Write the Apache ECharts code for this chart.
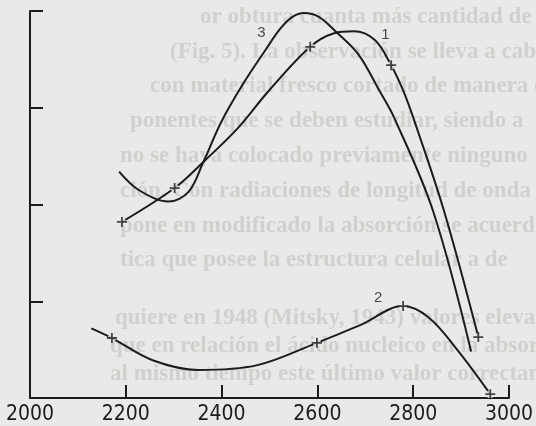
<!DOCTYPE html>
<html><head><meta charset="utf-8">
<script src="https://cdn.jsdelivr.net/npm/echarts@6/dist/echarts.min.js"></script>
<style>html,body{margin:0;padding:0;background:#e9e9e7;}#c{width:536px;height:426px;}</style>
</head><body><div id="c"></div>
<script>
// ---- data ----
const xTickLabels = ['2000', '2200', '2400', '2600', '2800', '3000'];

const curve1X = [2192, 2302, 2362, 2434, 2496, 2585, 2635, 2676, 2720, 2754, 2779, 2800, 2864, 2936];
const curve1Y = [1.82, 2.17, 2.44, 2.79, 3.16, 3.63, 3.77, 3.79, 3.70, 3.44, 3.18, 2.90, 1.94, 0.63];
const marks1X = [2192, 2302, 2585, 2754, 2936];
const marks1Y = [1.82, 2.17, 3.63, 3.44, 0.63];

const curve2X = [2128, 2171, 2256, 2351, 2475, 2599, 2688, 2779, 2833, 2895, 2961];
const curve2Y = [0.72, 0.62, 0.39, 0.29, 0.34, 0.57, 0.75, 0.95, 0.83, 0.48, 0.04];
const marks2X = [2171, 2599, 2779, 2961];
const marks2Y = [0.62, 0.57, 0.95, 0.04];

const curve3X = [2186, 2227, 2289, 2331, 2362, 2399, 2444, 2492, 2523, 2548, 2572, 2603, 2640, 2686, 2729, 2760, 2841, 2921];
const curve3Y = [2.34, 2.15, 2.03, 2.13, 2.44, 2.85, 3.24, 3.60, 3.82, 3.94, 3.98, 3.94, 3.78, 3.55, 3.18, 2.90, 1.94, 0.48];

const curveNames = ['1', '2', '3'];
const labelX = [2742, 2727, 2483];
const labelY = [3.75, 1.04, 3.77];

// faint show-through text of the printed page behind the figure
const pageLines = [
  'or obtura cuanta más cantidad de la mism',
  '(Fig. 5). La observación se lleva a cabo',
  'con material fresco cortado de manera que',
  'ponentes que se deben estudiar, siendo a',
  'no se haya colocado previamente ninguno',
  'ción. Con radiaciones de longitud de onda',
  'pone en modificado la absorción se acuerd',
  'tica que posee la estructura celular a de',
  'quiere en 1948 (Mitsky, 1943) valores elevad',
  'que en relación el ácido nucleico en la absorción',
  'al mismo tiempo este último valor correctamente'
];
const pageLineX = [200, 170, 150, 130, 120, 120, 120, 120, 115, 110, 110];
const pageLineY = [17, 52, 86, 121, 156, 191, 226, 260, 318, 346, 374];

// ---- build ----
const zip = (xs, ys) => xs.map((x, i) => [x, ys[i]]);
const ink = '#1c1c1c';
const paper = '#e9e9e7';
const plusPath = 'path://M5,0L5,10M0,5L10,5';

function curve(xs, ys) {
  return { type: 'line', data: zip(xs, ys), smooth: 0.35, showSymbol: false, symbol: 'none',
    lineStyle: { color: ink, width: 2 }, z: 2, silent: true };
}
function gaps(xs, ys) {
  return { type: 'scatter', data: zip(xs, ys), symbol: 'circle', symbolSize: 8,
    itemStyle: { color: paper }, z: 3, silent: true };
}
function plus(xs, ys) {
  return { type: 'scatter', data: zip(xs, ys), symbol: plusPath, symbolSize: 10,
    itemStyle: { color: 'rgba(0,0,0,0)', borderColor: ink, borderWidth: 1.8 }, z: 4, silent: true };
}

const chart = echarts.init(document.getElementById('c'), null, { renderer: 'canvas' });
chart.setOption({
  backgroundColor: paper,
  animation: false,
  grid: { left: 30, right: 22, top: 11, bottom: 28 },
  graphic: pageLines.map((t, i) => ({
    type: 'text', x: pageLineX[i], y: pageLineY[i], z: -10, silent: true,
    style: { text: t, fill: '#d0d0ce', font: 'bold 23px "Liberation Serif"', verticalAlign: 'middle' }
  })),
  xAxis: {
    type: 'value', min: 2000, max: 3000, interval: 200,
    axisLine: { show: true, lineStyle: { color: ink, width: 2 } },
    axisTick: { show: true, inside: true, length: 13, lineStyle: { color: ink, width: 2 } },
    splitLine: { show: false },
    axisLabel: {
      margin: 6, color: ink, fontSize: 21,
      fontFamily: '"Liberation Sans Narrow", "DejaVu Sans Condensed", "Liberation Sans"',
      formatter: v => xTickLabels[Math.round((v - 2000) / 200)] || ''
    }
  },
  yAxis: {
    type: 'value', min: 0, max: 4, interval: 1,
    axisLine: { show: true, lineStyle: { color: ink, width: 2 } },
    axisTick: { show: true, inside: true, length: 13, lineStyle: { color: ink, width: 2 } },
    splitLine: { show: false },
    axisLabel: { show: false }
  },
  series: [
    curve(curve1X, curve1Y), curve(curve2X, curve2Y), curve(curve3X, curve3Y),
    gaps(marks1X, marks1Y), gaps(marks2X, marks2Y),
    plus(marks1X, marks1Y), plus(marks2X, marks2Y),
    { type: 'scatter', symbolSize: 1, itemStyle: { color: 'rgba(0,0,0,0)' }, z: 5, silent: true,
      data: curveNames.map((n, i) => ({ name: n, value: [labelX[i], labelY[i]] })),
      label: { show: true, position: 'inside', formatter: '{b}', color: ink, fontSize: 15,
        fontFamily: '"Liberation Sans", "DejaVu Sans"' } }
  ]
});
</script></body></html>
